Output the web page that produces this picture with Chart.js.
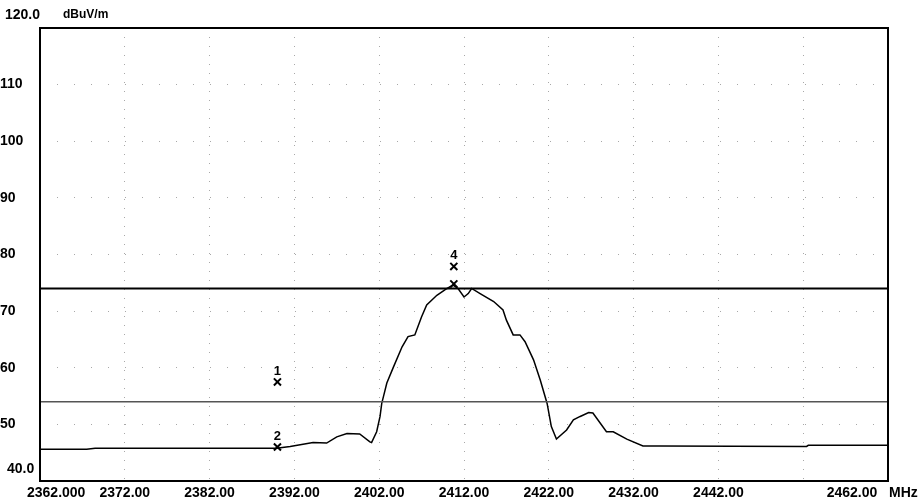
<!DOCTYPE html>
<html>
<head>
<meta charset="utf-8">
<script src="https://cdn.jsdelivr.net/npm/chart.js@4/dist/chart.umd.min.js"></script>
<style>
  html, body { margin: 0; padding: 0; background: #fff; }
  #grafico { display: block; }
</style>
</head>
<body>
<canvas id="grafico" width="920" height="504"></canvas>
<script>
// trace (MHz, dBuV/m)
const frecuencias = [2362, 2367.5, 2368.5, 2389.9, 2391.5, 2394.2, 2395.8, 2397.0, 2398.2, 2399.7,
  2400.9, 2401.1, 2401.7, 2402.1, 2402.3, 2402.5, 2402.9, 2403.7, 2404.7, 2405.4,
  2406.2, 2407.0, 2407.6, 2408.8, 2410.0, 2410.7, 2411.3, 2412.0, 2412.5, 2412.9,
  2413.9, 2415.5, 2416.6, 2417.0, 2417.8, 2418.6, 2419.2, 2420.2, 2421.0, 2421.8,
  2422.3, 2422.9, 2424.1, 2424.9, 2425.7, 2426.7, 2427.2, 2428.8, 2429.6, 2431.2,
  2433.1, 2435.1, 2452.4, 2452.6, 2462];
const niveles = [45.6, 45.6, 45.8, 45.8, 46.1, 46.8, 46.7, 47.8, 48.4, 48.3,
  46.9, 46.8, 48.7, 51.4, 53.7, 54.9, 57.3, 60.2, 63.7, 65.5,
  65.8, 69.0, 71.1, 72.8, 74.0, 74.6, 74.0, 72.5, 73.1, 74.0,
  73.1, 71.7, 70.2, 68.4, 65.8, 65.8, 64.6, 61.4, 57.8, 53.7,
  49.6, 47.4, 49.0, 50.8, 51.4, 52.1, 52.0, 48.7, 48.7, 47.4,
  46.2, 46.2, 46.1, 46.3, 46.3];

// limit lines
const limitePico = 74;
const limitePromedio = 54;

// markers
const marcadoresNombre = ['1', '2', '', '4'];
const marcadoresX = [2390, 2390, 2410.8, 2410.8];
const marcadoresY = [57.5, 46.0, 74.8, 77.9];

// axes
const ejeXMin = 2362, ejeXMax = 2462, ejeXPaso = 10;
const ejeYMin = 40, ejeYMax = 120, ejeYPaso = 10;
const etiquetaPrimeraX = '2362.000';
const etiquetaUltimaX = '2462.00';
const etiquetaOmitidaX = [2452];

const fuente = "'Liberation Sans', Arial, sans-serif";

const textosExtra = {
    id: 'textosExtra',
    afterDatasetsDraw(chart) {
        const c = chart.ctx;
        const x = chart.scales.x, y = chart.scales.y;
        c.save();
        c.fillStyle = '#000';
        c.font = 'bold 13px ' + fuente;
        c.textAlign = 'center';
        c.textBaseline = 'bottom';
        marcadoresNombre.forEach((n, i) => {
            if (!n) return;
            c.fillText(n, x.getPixelForValue(marcadoresX[i]), y.getPixelForValue(marcadoresY[i]) - 4);
        });
        c.restore();
    },
    afterDraw(chart) {
        const c = chart.ctx;
        const a = chart.chartArea;
        c.save();
        c.strokeStyle = '#000';
        c.lineWidth = 2;
        c.strokeRect(a.left, a.top, a.right - a.left, a.bottom - a.top);

        c.fillStyle = '#000';
        c.textBaseline = 'middle';
        c.font = 'bold 14px ' + fuente;
        c.textAlign = 'left';
        c.fillText(ejeYMax.toFixed(1), 5, 15);
        c.fillText(ejeYMin.toFixed(1), 7, 469);
        c.fillText(etiquetaPrimeraX, 27, 493);
        c.fillText('MHz', 889, 493);
        c.textAlign = 'center';
        c.fillText(etiquetaUltimaX, 852, 493);
        c.textAlign = 'left';
        c.font = 'bold 12px ' + fuente;
        c.fillText('dBuV/m', 63, 15);
        c.restore();
    }
};

const lineaLimite = (valor, color, ancho) => ({
    type: 'line',
    data: [{ x: ejeXMin, y: valor }, { x: ejeXMax, y: valor }],
    borderColor: color,
    borderWidth: ancho,
    pointRadius: 0
});

new Chart(document.getElementById('grafico').getContext('2d'), {
    type: 'scatter',
    data: {
        datasets: [
            lineaLimite(limitePico, '#000', 2),
            lineaLimite(limitePromedio, '#555', 1.5),
            {
                type: 'line',
                data: frecuencias.map((f, i) => ({ x: f, y: niveles[i] })),
                borderColor: '#000',
                borderWidth: 1.5,
                pointRadius: 0,
                tension: 0
            },
            {
                type: 'scatter',
                data: marcadoresX.map((f, i) => ({ x: f, y: marcadoresY[i] })),
                pointStyle: 'crossRot',
                pointRadius: 5,
                borderColor: '#000',
                borderWidth: 2
            }
        ]
    },
    options: {
        responsive: false,
        animation: false,
        devicePixelRatio: 1,
        layout: { padding: { top: 28, right: 32, left: 0, bottom: 0 } },
        plugins: { legend: { display: false }, tooltip: { enabled: false }, title: { display: false } },
        scales: {
            x: {
                type: 'linear',
                min: ejeXMin,
                max: ejeXMax,
                afterFit: (eje) => { eje.height = 23; },
                afterBuildTicks: (eje) => {
                    eje.ticks = [];
                    for (let v = ejeXMin; v <= ejeXMax; v += ejeXPaso) eje.ticks.push({ value: v });
                },
                ticks: {
                    autoSkip: false,
                    maxRotation: 0,
                    padding: 4,
                    color: '#000',
                    font: { family: fuente, size: 14, weight: 'bold' },
                    callback: (v) => (v === ejeXMin || v === ejeXMax || etiquetaOmitidaX.includes(v)) ? '' : v.toFixed(2)
                },
                grid: { color: '#a8a8a8', lineWidth: 1, drawTicks: false },
                border: { display: false, dash: [1, 8] }
            },
            y: {
                type: 'linear',
                min: ejeYMin,
                max: ejeYMax,
                afterFit: (eje) => { eje.width = 40; },
                ticks: {
                    stepSize: ejeYPaso,
                    crossAlign: 'far',
                    padding: 4,
                    color: '#000',
                    font: { family: fuente, size: 14, weight: 'bold' },
                    callback: (v) => (v === ejeYMin || v === ejeYMax) ? '' : String(v)
                },
                grid: { color: '#a8a8a8', lineWidth: 1, drawTicks: false },
                border: { display: false, dash: [1, 16] }
            }
        }
    },
    plugins: [textosExtra]
});
</script>
</body>
</html>
